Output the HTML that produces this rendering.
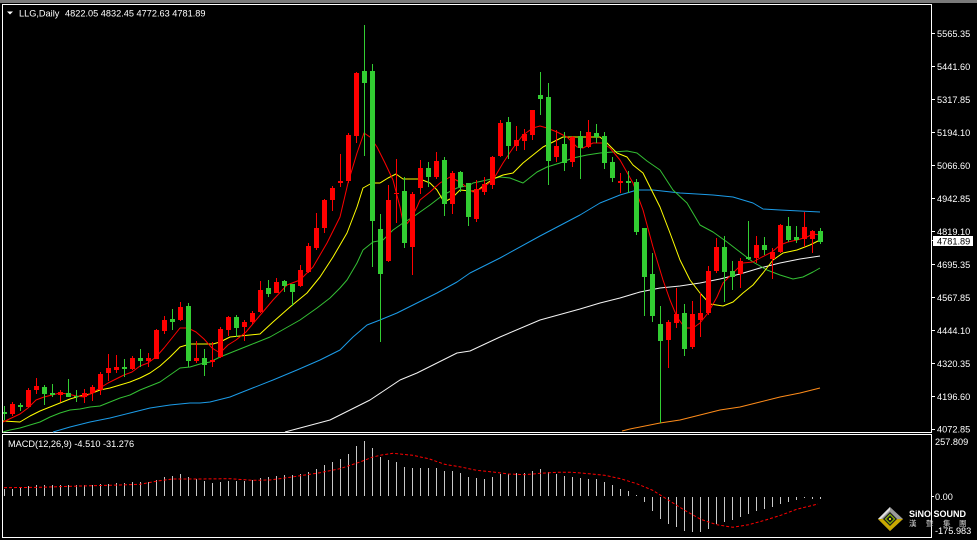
<!DOCTYPE html>
<html><head><meta charset="utf-8"><style>
html,body{margin:0;padding:0;background:#000;}
svg{display:block;}
text{font-family:"Liberation Sans","Noto Sans CJK SC",sans-serif;}
</style></head><body>
<svg width="977" height="540" viewBox="0 0 977 540" xmlns="http://www.w3.org/2000/svg">
<rect x="0" y="0" width="977" height="540" fill="#000"/>
<rect x="0" y="0" width="977" height="3" fill="#7a7a7a"/>
<g fill="none" stroke="#fff" stroke-width="1" shape-rendering="crispEdges">
<path d="M2.5 4.5H931.5V432.5H2.5Z"/>
<path d="M2.5 434.5H931.5V537.5H2.5Z"/>
<path d="M931 33.5h4M931 66.5h4M931 99.5h4M931 132.5h4M931 165.5h4M931 198.5h4M931 231.5h4M931 264.5h4M931 297.5h4M931 330.5h4M931 363.5h4M931 396.5h4M931 429.5h4M931 240.5h3M931 496.5h3"/>
</g>
<g fill="#fff" font-size="9.2">
<text x="937" y="36.8">5565.35</text>
<text x="937" y="69.8">5441.60</text>
<text x="937" y="102.8">5317.85</text>
<text x="937" y="135.8">5194.10</text>
<text x="937" y="168.8">5066.60</text>
<text x="937" y="201.8">4942.85</text>
<text x="937" y="234.8">4819.10</text>
<text x="937" y="267.8">4695.35</text>
<text x="937" y="300.8">4567.85</text>
<text x="937" y="333.8">4444.10</text>
<text x="937" y="366.8">4320.35</text>
<text x="937" y="399.8">4196.60</text>
<text x="937" y="432.6">4072.85</text>
<text x="935" y="445">257.809</text>
<text x="935" y="500">0.00</text>
<text x="935" y="534">-175.983</text>
</g>
<rect x="933" y="236" width="40" height="10" fill="#fff"/>
<text x="937" y="244.6" fill="#000" font-size="9.2">4781.89</text>
<polygon points="7,11.5 13,11.5 10,14.5" fill="#fff"/>
<text x="19" y="16.5" fill="#fff" font-size="9.2">LLG,Daily</text>
<text x="65" y="16.5" fill="#fff" font-size="9.2">4822.05 4832.45 4772.63 4781.89</text>
<text x="8" y="447" fill="#fff" font-size="9.2">MACD(12,26,9) -4.510 -31.276</text>
<g fill="none" stroke-width="1" stroke-linejoin="round">
<polyline stroke="#ff8c1a" points="622,431 630,429 660,423 680,420 700,415 720,410 740,407 760,402 780,397 800,393 820,388"/>
<polyline stroke="#f4f4f4" points="285,432 330,420 370,400 400,380 417,373 437,363 457,353 470,351 500,337 540,320 580,309 600,303 620,298 640,292 660,288 680,286 700,283 720,279 740,274 760,268 780,263 800,259 820,256"/>
<polyline stroke="#1c9ce8" points="53,432 70,427 90,422 110,418 130,413 150,408 170,405 190,403 200,403 210,402 230,397 240,393 273,380 297,370 320,360 340,350 353,337 367,325 380,320 397,313 417,303 437,293 457,282 470,273 500,258 540,236 580,215 600,203 620,195 637,190 653,190 680,193 697,194 713,195 733,197 753,203 763,209 780,210 800,211 820,212"/>
<polyline stroke="#34c034" points="3,432 10,430 20,428 30,425 40,422 50,417 60,413 70,410 80,409 90,407 100,406 110,402 120,398 130,395 140,390 150,386 160,382 170,375 180,368 190,367 200,364 210,362 220,357 230,353 250,345 270,337 300,320 317,308 330,298 340,288 347,280 357,263 363,250 373,242 383,240 393,230 403,223 413,217 430,205 443,195 457,188 470,185 473,183 487,180 500,177 510,178 523,183 537,172 547,167 560,163 573,158 587,155 600,153 613,152 627,151 637,153 647,161 660,170 673,190 687,203 700,225 713,232 727,242 740,252 753,262 767,270 780,275 793,279 803,277 813,272 820,268"/>
<polyline stroke="#ffff00" points="3,421 20,422 30,416 40,411 50,407 60,403 70,399 80,396 90,394 100,390 110,388 120,385 130,382 140,378 150,373 160,366 170,357 180,347 190,344 200,344 213,344 220,342 230,337 240,336 260,334 273,322 290,307 307,293 320,277 333,257 347,233 357,207 363,188 372,183 380,183 388,178 396,174 403,179 420,179 430,183 437,190 444,202 452,198 460,190 470,191 477,191 483,186 493,179 503,175 513,173 523,163 533,155 543,147 553,142 563,137 580,137 593,137 600,137 607,143 617,153 627,157 633,165 643,173 650,187 660,207 670,233 680,260 690,280 700,293 710,304 723,306 733,302 743,293 753,285 763,273 773,260 783,253 797,250 810,245 820,240"/>
<polyline stroke="#ff0000" points="3,422 20,414 28,408 36,400 44,397 52,395 60,393 68,394 76,396 84,397 92,393 100,388 108,383 116,379 124,375 132,372 140,366 148,363 156,357 164,348 172,338 180,328 188,328 196,332 204,339 212,348 220,353 228,345 236,340 246,332 262,313 273,300 287,285 300,280 313,267 327,243 340,217 348,183 357,153 364,133 370,137 377,147 385,163 393,180 400,207 404,227 410,220 417,207 420,200 430,192 440,183 450,177 460,182 473,192 483,188 493,180 503,163 513,148 523,135 533,128 540,126 547,128 557,132 567,137 577,147 583,148 593,143 603,143 610,148 620,160 633,183 643,210 653,247 663,280 670,300 677,317 685,328 693,328 700,323 708,313 717,297 723,283 733,273 743,263 753,262 762,257 772,252 780,245 788,242 797,240 807,237 813,234 820,235"/>
</g>
<path fill="none" stroke="#ff0000" stroke-width="1" shape-rendering="crispEdges" d="M12.5 402V416M28.5 388V408M36.5 378V394M60.5 390V402M84.5 389V403M92.5 385V401M100.5 372V395M108.5 354V381M116.5 355V373M132.5 356V370M148.5 353V367M156.5 329V359M164.5 316V334M180.5 302V321M196.5 341V363M212.5 342V367M220.5 327V358M228.5 316V336M244.5 320V341M252.5 311V324M260.5 281V313M276.5 278V293M300.5 265V287M308.5 243V273M316.5 213V250M324.5 199V233M332.5 186V211M340.5 154V187M348.5 133V183M356.5 72V143M388.5 185V262M396.5 159V223M412.5 192V275M420.5 160V194M436.5 152V179M452.5 171V214M476.5 180V222M484.5 177V195M492.5 156V189M500.5 120V157M516.5 126V151M524.5 129V150M532.5 110V140M556.5 130V162M572.5 136V167M588.5 120V148M620.5 173V193M668.5 320V368M676.5 288V328M692.5 301V349M700.5 293V337M708.5 266V315M716.5 238V273M740.5 258V288M756.5 236V263M772.5 248V279M780.5 224V253M804.5 212V247M812.5 230V253"/>
<path fill="#ff0000" shape-rendering="crispEdges" d="M10 404h5v10h-5zM26 390h5v17h-5zM34 386h5v4h-5zM58 392h5v3h-5zM82 393h5v4h-5zM90 387h5v6h-5zM98 374h5v16h-5zM106 368h5v5h-5zM114 367h5v3h-5zM130 358h5v11h-5zM146 358h5v3h-5zM154 330h5v29h-5zM162 320h5v11h-5zM178 307h5v13h-5zM194 358h5v3h-5zM210 360h5v2h-5zM218 329h5v28h-5zM226 317h5v13h-5zM242 322h5v5h-5zM250 313h5v9h-5zM258 290h5v22h-5zM274 282h5v11h-5zM298 270h5v16h-5zM306 246h5v26h-5zM314 228h5v20h-5zM322 200h5v28h-5zM330 188h5v12h-5zM338 181h5v2h-5zM346 135h5v46h-5zM354 73h5v63h-5zM386 200h5v61h-5zM394 193h5v1h-5zM410 194h5v53h-5zM418 168h5v20h-5zM434 161h5v16h-5zM450 173h5v31h-5zM474 189h5v30h-5zM482 184h5v8h-5zM490 157h5v28h-5zM498 123h5v33h-5zM514 140h5v6h-5zM522 134h5v7h-5zM530 110h5v25h-5zM554 146h5v11h-5zM570 137h5v25h-5zM586 132h5v15h-5zM618 181h5v2h-5zM666 322h5v18h-5zM674 314h5v9h-5zM690 314h5v33h-5zM698 313h5v7h-5zM706 271h5v42h-5zM714 247h5v24h-5zM738 261h5v13h-5zM754 245h5v13h-5zM770 252h5v7h-5zM778 225h5v27h-5zM802 227h5v12h-5zM810 231h5v8h-5z"/>
<path fill="none" stroke="#32cd32" stroke-width="1" shape-rendering="crispEdges" d="M4.5 406V420M20.5 403V411M44.5 385V405M52.5 384V397M68.5 379V397M76.5 390V402M124.5 359V377M140.5 349V367M172.5 309V330M188.5 303V367M204.5 349V376M236.5 315V337M268.5 280V297M284.5 280V292M292.5 284V306M364.5 25V156M372.5 64V267M380.5 214V342M404.5 177V248M428.5 162V187M444.5 157V216M460.5 171V192M468.5 183V226M508.5 117V159M540.5 72V115M548.5 83V185M564.5 132V171M580.5 131V179M596.5 124V143M604.5 132V169M612.5 157V182M628.5 171V193M636.5 179V235M644.5 228V316M652.5 253V322M660.5 306V423M684.5 304V356M724.5 236V302M732.5 261V290M748.5 221V260M764.5 237V255M788.5 217V242M796.5 226V243M820.5 228V244"/>
<path fill="#32cd32" shape-rendering="crispEdges" d="M3 412h4v2h-4zM18 405h5v2h-5zM42 387h5v7h-5zM50 393h5v2h-5zM66 393h5v4h-5zM74 396h5v1h-5zM122 367h5v2h-5zM138 358h5v3h-5zM170 319h5v3h-5zM186 306h5v55h-5zM202 358h5v7h-5zM234 317h5v11h-5zM266 288h5v6h-5zM282 281h5v5h-5zM290 284h5v8h-5zM362 71h5v12h-5zM370 71h5v150h-5zM378 229h5v45h-5zM402 191h5v52h-5zM426 168h5v9h-5zM442 160h5v44h-5zM458 172h5v15h-5zM466 183h5v34h-5zM506 122h5v24h-5zM538 95h5v4h-5zM546 97h5v64h-5zM562 144h5v19h-5zM578 136h5v12h-5zM594 133h5v4h-5zM602 136h5v27h-5zM610 162h5v16h-5zM626 181h5v2h-5zM634 182h5v50h-5zM642 228h5v49h-5zM650 274h5v42h-5zM658 324h5v17h-5zM682 313h5v36h-5zM722 247h5v25h-5zM730 271h5v6h-5zM746 257h5v2h-5zM762 245h5v5h-5zM786 226h5v14h-5zM794 237h5v3h-5zM818 231h5v11h-5z"/>
<path fill="none" stroke="#c8c8c8" stroke-width="1" shape-rendering="crispEdges" d="M4.5 496V489M12.5 496V489M20.5 496V488M28.5 496V486M36.5 496V485M44.5 496V485M52.5 496V485M60.5 496V485M68.5 496V485M76.5 496V485M84.5 496V485M92.5 496V485M100.5 496V484M108.5 496V484M116.5 496V483M124.5 496V483M132.5 496V482M140.5 496V482M148.5 496V482M156.5 496V480M164.5 496V477M172.5 496V476M180.5 496V474M188.5 496V477M196.5 496V479M204.5 496V481M212.5 496V483M220.5 496V482M228.5 496V481M236.5 496V481M244.5 496V481M252.5 496V480M260.5 496V478M268.5 496V477M276.5 496V476M284.5 496V475M292.5 496V475M300.5 496V474M308.5 496V472M316.5 496V469M324.5 496V465M332.5 496V462M340.5 496V459M348.5 496V454M356.5 496V446M364.5 496V441M372.5 496V448M380.5 496V457M388.5 496V460M396.5 496V462M404.5 496V467M412.5 496V468M420.5 496V468M428.5 496V468M436.5 496V468M444.5 496V471M452.5 496V471M460.5 496V473M468.5 496V477M476.5 496V478M484.5 496V479M492.5 496V477M500.5 496V474M508.5 496V474M516.5 496V473M524.5 496V473M532.5 496V471M540.5 496V469M548.5 496V472M556.5 496V474M564.5 496V476M572.5 496V477M580.5 496V478M588.5 496V479M596.5 496V479M604.5 496V482M612.5 496V485M620.5 496V489M628.5 496V491M636.5 496V495M644.5 497V502M652.5 497V511M660.5 497V519M668.5 497V524M676.5 497V527M684.5 497V531M692.5 497V532M700.5 497V532M708.5 497V529M716.5 497V524M724.5 497V522M732.5 497V520M740.5 497V517M748.5 497V514M756.5 497V511M764.5 497V509M772.5 497V507M780.5 497V504M788.5 497V502M796.5 497V500M804.5 497V498M812.5 497V499M820.5 497V499"/>
<polyline fill="none" stroke="#ff0000" stroke-width="1" stroke-dasharray="3 2" points="4,487.7 40,487.3 80,486 120,485 140,484.3 156,481.3 172,479 200,479 230,478.7 252,480.3 270,480 292,477 320,472.7 340,468.7 360,462 372,457.3 380,455.3 393,453.3 400,454 412.7,455.3 428.7,458.7 444.7,464.3 460.7,467 476.7,470.3 492.7,472 508.7,474 524.7,474.7 540.7,473.3 556.7,472.3 572.7,472.3 588.7,473.7 604.7,475.3 620.7,478.7 636.7,483.7 652.7,490.3 668.7,500.3 684.7,510.3 700.7,519.3 716.7,524.7 732.7,527.3 748.7,524.7 764.7,520.3 780.7,515.3 796.7,509.3 812.7,505.3 818,504"/>
<polygon points="890,507 903,519 890,531 878,519" fill="#9a9a9a"/>
<polygon points="878,519 903,519 890,531" fill="#c9a800"/>
<polygon points="890,507 878,519 881,519 890,510" fill="#e0e0e0"/>
<polygon points="890,512 897,519 890,526 883,519" fill="#1a1a1a"/>
<polygon points="890,514.5 894.5,519 890,523.5 885.5,519" fill="none" stroke="#8ab800" stroke-width="1.2"/>
<rect x="889" y="518" width="2" height="2" fill="#c8d800"/>
<text x="909" y="517" fill="#fff" font-size="9" font-weight="bold">SiNO SOUND</text>
<g fill="#cfcfcf" font-size="7.5" font-family="'Noto Sans CJK TC','WenQuanYi Zen Hei',sans-serif">
<text x="909" y="526">漢</text>
<text x="926" y="526">聲</text>
<text x="943" y="526">集</text>
<text x="959" y="526">團</text>
</g>
</svg>
</body></html>
